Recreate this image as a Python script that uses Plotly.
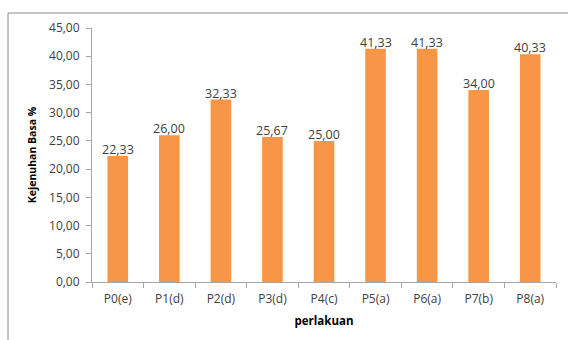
import plotly.graph_objects as go

# Kejenuhan basa per perlakuan
perlakuan = ["P0(e)", "P1(d)", "P2(d)", "P3(d)", "P4(c)", "P5(a)", "P6(a)", "P7(b)", "P8(a)"]
kejenuhan_basa = [22.33, 26.00, 32.33, 25.67, 25.00, 41.33, 41.33, 34.00, 40.33]
y_ticks = [0, 5, 10, 15, 20, 25, 30, 35, 40, 45]

W, H = 568, 340
L, R, T, B = 92, 12, 28, 58
PW, PH = W - L - R, H - T - B
FONT = "Open Sans"
TXT = "#404040"
AX = "#A6A6A6"

fig = go.Figure(go.Bar(
    x=perlakuan,
    y=kejenuhan_basa,
    marker=dict(color="#F79646", line=dict(width=0)),
    hoverinfo="x+y",
))

# Value labels sitting right on the bar tops
for cat, val in zip(perlakuan, kejenuhan_basa):
    fig.add_annotation(
        x=cat, y=val, xref="x", yref="y",
        text=f"{val:.2f}".replace(".", ","),
        showarrow=False, yanchor="bottom", yshift=-4,
        font=dict(family=FONT, size=12.5, color=TXT),
    )

fig.update_layout(
    width=W, height=H,
    margin=dict(l=L, r=R, t=T, b=B),
    paper_bgcolor="white", plot_bgcolor="white",
    separators=",.",
    bargap=0.6,
    showlegend=False,
    font=dict(family=FONT, color=TXT, size=12),
    xaxis=dict(
        showline=True, linecolor=AX, linewidth=1,
        ticks="outside", ticklen=5, tickcolor=AX,
        tickson="boundaries",
        ticklabelstandoff=6,
        tickfont=dict(family=FONT, size=12, color=TXT),
        title=dict(text="<b>perlakuan</b>", font=dict(family=FONT, size=11.5, color="#000000"), standoff=10),
    ),
    yaxis=dict(
        range=[0, 45],
        tickvals=y_ticks,
        tickformat=".2f",
        showgrid=False, zeroline=False,
        showline=True, linecolor=AX, linewidth=1,
        ticks="outside", ticklen=5, tickcolor=AX,
        ticklabelstandoff=4,
        tickfont=dict(family=FONT, size=12, color=TXT),
        title=dict(text="<b>Kejenuhan Basa %</b>", font=dict(family=FONT, size=10.5, color="#000000"), standoff=10),
    ),
)

# Chart-area frame (top and left edges), pixel positions mapped to plot-area fractions
def fx(px):
    return (px - L) / PW

def fy(py):
    return (H - B - py) / PH

fig.add_shape(type="line", xref="paper", yref="paper",
              x0=fx(8), x1=fx(W), y0=fy(13), y1=fy(13),
              line=dict(color="#8C8C8C", width=1))
fig.add_shape(type="line", xref="paper", yref="paper",
              x0=fx(8), x1=fx(8), y0=fy(13), y1=fy(H),
              line=dict(color="#8C8C8C", width=1))

fig.write_html("out.html")
